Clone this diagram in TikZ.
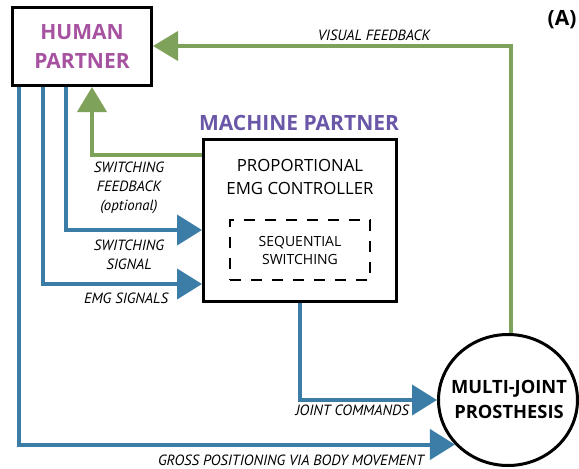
\documentclass[tikz,border=0pt]{standalone}
\usepackage{fontspec}
\setmainfont{Open Sans}
\newfontfamily\labfont{PT Sans}
\usetikzlibrary{arrows.meta,shapes.geometric}
\definecolor{fbgreen}{RGB}{127,162,90}
\definecolor{sigblue}{RGB}{59,125,166}
\definecolor{humanpurple}{RGB}{166,82,160}
\definecolor{machinepurple}{RGB}{107,87,167}
\tikzset{
  x=1pt,y=-1pt,
  boxnode/.style={draw=black,line width=3pt,fill=white,inner sep=0pt},
  greenarrow/.style={draw=fbgreen,line width=4pt,-{Triangle[length=25pt,width=29pt]}},
  bluearrow/.style={draw=sigblue,line width=4pt,-{Triangle[length=25pt,width=30pt]}},
  lab/.style={font=\labfont\itshape\fontsize{14.8}{19}\selectfont,align=center,inner sep=0pt},
  titlefont/.style={font=\bfseries\fontsize{21}{29}\selectfont},
}
\begin{document}
\begin{tikzpicture}
\useasboundingbox (0,0) rectangle (579,469);
\fill[white] (0,0) rectangle (579,469);

% nodes
\node[boxnode,minimum width=139pt,minimum height=78pt,text=humanpurple,titlefont,align=center] (hum) at (82,46.5) {HUMAN\\PARTNER};
\node[boxnode,minimum width=193pt,minimum height=162pt] (ctrl) at (300,220.5) {};
\node[font=\bfseries\fontsize{21}{24}\selectfont,text=machinepurple,inner sep=0pt] (mtitle) at (299,123) {MACHINE PARTNER};
\node[font=\fontsize{16.8}{23}\selectfont,align=center,inner sep=0pt] (ctext) at (300,176.5) {PROPORTIONAL\\EMG CONTROLLER};
\node[draw=black,line width=2.5pt,dash pattern=on 11pt off 10pt,minimum width=140pt,minimum height=60pt,inner sep=0pt,font=\fontsize{14}{18}\selectfont,align=center] (seq) at (300,250) {SEQUENTIAL\\SWITCHING};
\node[boxnode,ellipse,minimum width=139pt,minimum height=131pt] (pros) at (508,400) {};
\node[font=\bfseries\fontsize{18.3}{25}\selectfont,align=center,inner sep=0pt] (prostext) at (509,399.5) {MULTI-JOINT\\PROSTHESIS};
\node[font=\bfseries\fontsize{21}{24}\selectfont,inner sep=0pt] (panel) at (562,20) {(A)};

% coordinates
\coordinate (gtop) at (511,46);
\coordinate (sfb) at (92,155);

% green connectors
\draw[greenarrow] (pros.north -| gtop) -- (gtop) -- (hum.east |- gtop);
\draw[greenarrow] (ctrl.west |- sfb) -- (sfb) -- (hum.south -| sfb);

% blue connectors
\coordinate (b1) at (19,0);
\coordinate (b2) at (43,0);
\coordinate (b3) at (66,0);
\coordinate (y1) at (0,230);
\coordinate (y2) at (0,284);
\draw[bluearrow] (hum.south -| b3) |- (ctrl.west |- y1);
\draw[bluearrow] (hum.south -| b2) |- (ctrl.west |- y2);
\draw[bluearrow] (hum.south -| b1) |- (pros.220);
\coordinate (jx) at (300,0);
\draw[bluearrow] (ctrl.south -| jx) |- (pros.west);

% labels
\node[lab] (l1) at (129,188) {SWITCHING\\FEEDBACK\\(optional)};
\node[lab] (l2) at (129,254.5) {SWITCHING\\SIGNAL};
\node[lab] (l3) at (126,298) {EMG SIGNALS};
\node[lab,anchor=east] (l4) at (409,410) {JOINT COMMANDS};
\node[lab,anchor=east] (l5) at (424,460) {GROSS POSITIONING VIA BODY MOVEMENT};
\node[lab] (l6) at (374,35) {VISUAL FEEDBACK};
\end{tikzpicture}
\end{document}
